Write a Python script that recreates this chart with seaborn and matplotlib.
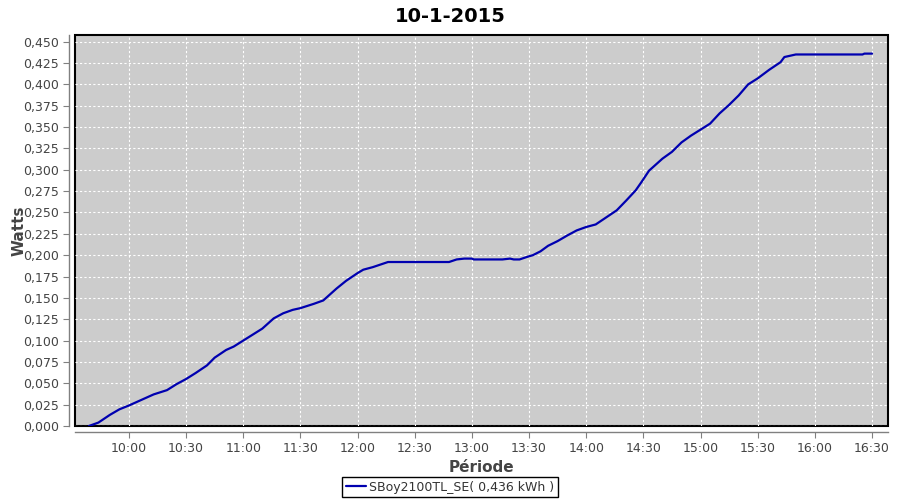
import pandas as pd
import numpy as np
import matplotlib
matplotlib.use('Agg')
import matplotlib.pyplot as plt
import matplotlib.dates as mdates
from matplotlib.ticker import MultipleLocator, FuncFormatter
import seaborn as sns

# cumulative energy
times = ["09:39", "09:44", "09:50", "09:55", "10:00", "10:06", "10:13", "10:20",
         "10:25", "10:30", "10:35", "10:41", "10:45", "10:51", "10:55", "11:00",
         "11:05", "11:10", "11:16", "11:21", "11:26", "11:30", "11:37", "11:42",
         "11:45", "11:49", "11:54", "12:00", "12:03", "12:08", "12:16", "12:48",
         "12:52", "12:56", "13:00", "13:01", "13:16", "13:20", "13:22", "13:25",
         "13:29", "13:32", "13:36", "13:40", "13:45", "13:50", "13:55", "14:00",
         "14:05", "14:10", "14:16", "14:21", "14:26", "14:29", "14:33", "14:40",
         "14:45", "14:50", "14:55", "15:00", "15:05", "15:10", "15:15", "15:20",
         "15:25", "15:30", "15:36", "15:42", "15:44", "15:50", "16:25", "16:26",
         "16:30"]
watts = [0.000, 0.004, 0.013, 0.0195, 0.024, 0.030, 0.037, 0.042,
         0.049, 0.055, 0.062, 0.071, 0.080, 0.089, 0.093, 0.100,
         0.107, 0.114, 0.126, 0.132, 0.136, 0.138, 0.143, 0.147,
         0.153, 0.161, 0.170, 0.179, 0.183, 0.186, 0.192, 0.192,
         0.195, 0.196, 0.196, 0.195, 0.195, 0.196, 0.195, 0.195,
         0.198, 0.200, 0.2045, 0.211, 0.2165, 0.223, 0.229, 0.233,
         0.236, 0.2435, 0.2525, 0.264, 0.276, 0.2856, 0.299, 0.313,
         0.321, 0.332, 0.340, 0.347, 0.354, 0.366, 0.376, 0.387,
         0.400, 0.407, 0.417, 0.426, 0.432, 0.435, 0.435, 0.436,
         0.436]
series_name = "SBoy2100TL_SE( 0,436 kWh )"
title = "10-1-2015"

df = pd.DataFrame({"time": pd.to_datetime("2015-01-10 " + pd.Series(times)),
                   "watts": watts})

sns.set_style('white', {'axes.facecolor': '#cccccc'})
plt.rcParams['font.family'] = ['DejaVu Sans']

fig = plt.figure(figsize=(9, 5), dpi=100)
ax = fig.add_axes([0.0833, 0.148, 0.9034, 0.782])

sns.lineplot(data=df, x="time", y="watts", ax=ax, color='#0000b0',
             linewidth=1.6, label=series_name, legend=False)

ax.set_xlim(pd.Timestamp("2015-01-10 09:31:42"), pd.Timestamp("2015-01-10 16:38:24"))
ax.set_ylim(0, 0.4578)

ax.xaxis.set_major_locator(mdates.MinuteLocator(byminute=[0, 30]))
ax.xaxis.set_major_formatter(mdates.DateFormatter('%H:%M'))
ax.yaxis.set_major_locator(MultipleLocator(0.025))
ax.yaxis.set_major_formatter(FuncFormatter(lambda v, p: f"{v:.3f}".replace('.', ',')))

ax.grid(True, color='white', linestyle=(0, (2, 2)), linewidth=0.8)
ax.set_axisbelow(True)

# frame around plot area plus offset grey axis lines
ax.patch.set_edgecolor('black')
ax.patch.set_linewidth(1.5)
for s in ['top', 'right']:
    ax.spines[s].set_visible(False)
for s in ['left', 'bottom']:
    ax.spines[s].set_position(('outward', 4))
    ax.spines[s].set_color('#808080')
    ax.spines[s].set_linewidth(1.0)
ax.tick_params(axis='both', direction='out', length=4, width=0.8, color='#808080',
               labelcolor='#444444', labelsize=9, left=True, bottom=True)

ax.set_xlabel("Période", fontsize=11, fontweight='bold', color='#444444')
ax.xaxis.set_label_coords(0.5, -0.088)
ax.set_ylabel("Watts", fontsize=11, fontweight='bold', color='#444444')
ax.yaxis.set_label_coords(-0.060, 0.5)
fig.suptitle(title, fontsize=14, fontweight='bold', color='black', y=0.985)

handles, labels = ax.get_legend_handles_labels()
leg = fig.legend(handles, labels, loc='center', bbox_to_anchor=(0.5, 0.026),
                 fontsize=9, frameon=True, fancybox=False, edgecolor='black',
                 facecolor='white', framealpha=1,
                 handlelength=1.6, borderpad=0.3, handletextpad=0.3)
leg.get_frame().set_linewidth(1.0)
for t in leg.get_texts():
    t.set_color('#333333')

fig.savefig("out.png", dpi=100)
